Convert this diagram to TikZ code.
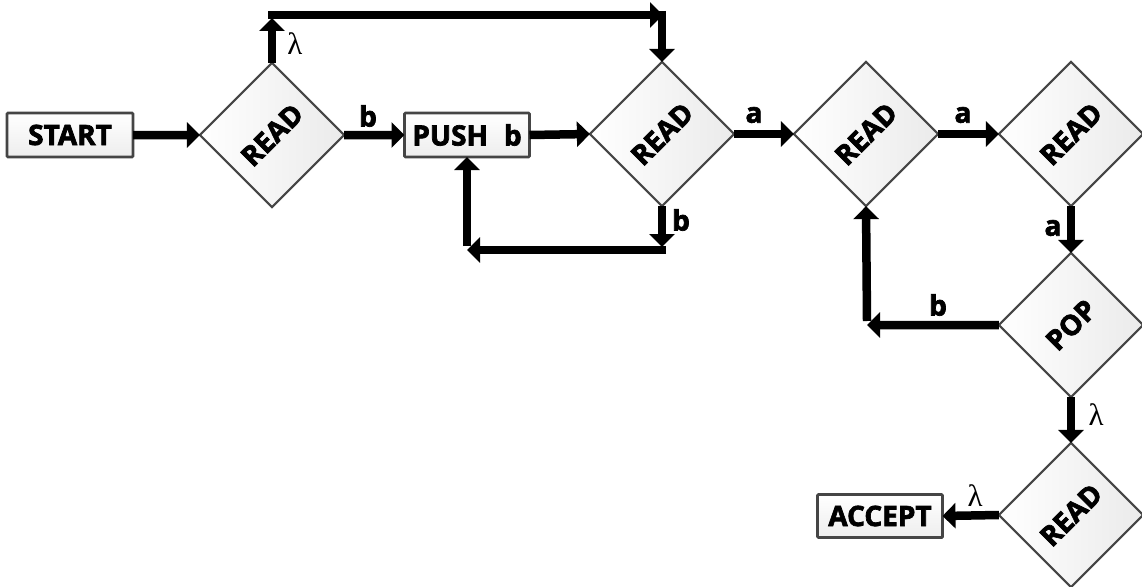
\documentclass[tikz,border=0pt]{standalone}
\usepackage{fontspec}
\setmainfont{Open Sans}[BoldFeatures={FakeBold=2.5}]
\newfontfamily\lamfont{Liberation Serif}
\usetikzlibrary{arrows.meta}
\definecolor{edgegray}{HTML}{454545}
\tikzset{
  boxnode/.style={draw=edgegray, line width=2.8pt, rounded corners=1pt, top color=white, bottom color=gray!14,
    minimum height=44pt, inner sep=0pt, outer sep=0pt, font=\fontsize{28}{32}\selectfont\bfseries},
  dia/.style={draw=edgegray, line width=2.2pt, rotate=45, minimum width=102pt, minimum height=102pt,
    inner sep=0pt, outer sep=0pt, left color=white, right color=gray!16, font=\fontsize{28}{32}\selectfont\bfseries},
  arr/.style={line width=8.5pt, -{Triangle[length=13pt,width=25pt]}},
  lab/.style={font=\fontsize{28}{32}\selectfont\bfseries, inner sep=0pt},
  lam/.style={font=\fontsize{31}{34}\lamfont, inner sep=0pt}
}
\begin{document}
\begin{tikzpicture}[x=1pt,y=-1pt]
\useasboundingbox (0,0) rectangle (1142,586);
% nodes
\node[boxnode, minimum width=126pt] (start) at (70,135) {START};
\node[dia] (r1) at (272,135) {READ};
\node[boxnode, minimum width=125pt] (push) at (467,135) {PUSH\hspace{16pt}b};
\node[dia] (r2) at (662,134) {READ};
\node[dia] (r3) at (866,134) {READ};
\node[dia] (r4) at (1071,134) {READ};
\node[dia] (pop) at (1071,325) {POP};
\node[dia] (r5) at (1071,515) {READ};
\node[boxnode, minimum width=125pt, minimum height=43pt] (accept) at (880,516) {ACCEPT};
% helper coordinates
\coordinate (c1) at (272,15);
\coordinate (c1a) at (272,18);
\coordinate (c2) at (663,15);
\coordinate (c2a) at (662,11);
\coordinate (d1a) at (662,247);
\coordinate (d1) at (662,250);
\coordinate (d2) at (467,250);
\coordinate (e1) at (867,325);
% connectors
\draw[arr] (start.east) -- (r1.north west);
\draw[arr] (r1.north east) -- (c1a);
\draw[arr] ([xshift=-4pt]c1) -- (c2);
\draw[arr] (c2a) -- (r2.north east);
\draw[arr] (r1.south east) -- (push.west);
\draw[arr] (push.east) -- (r2.north west);
\draw[arr] (r2.south west) -- (d1a);
\draw[arr] ([xshift=4pt]d1) -- (d2);
\draw[arr] ([yshift=4pt]d2) -- (push.south);
\draw[arr] (r2.south east) -- (r3.north west);
\draw[arr] (r3.south east) -- (r4.north west);
\draw[arr] (r4.south west) -- (pop.north east);
\draw[arr] (pop.north west) -- (e1);
\draw[arr] ([yshift=4pt]e1) -- (r3.south west);
\draw[arr] (pop.south west) -- (r5.north east);
\draw[arr] (r5.north west) -- (accept.east);
% labels
\node[lam] (l1) at (295,44) {λ};
\node[lab] (l2) at (368,116) {b};
\node[lab] (l3) at (681,220) {b};
\node[lab] (l4) at (754,115) {a};
\node[lab] (l5) at (963,115) {a};
\node[lab] (l6) at (1053,228) {a};
\node[lab] (l7) at (938,305) {b};
\node[lam] (l8) at (1096,415) {λ};
\node[lam] (l9) at (975,496) {λ};
\end{tikzpicture}
\end{document}
